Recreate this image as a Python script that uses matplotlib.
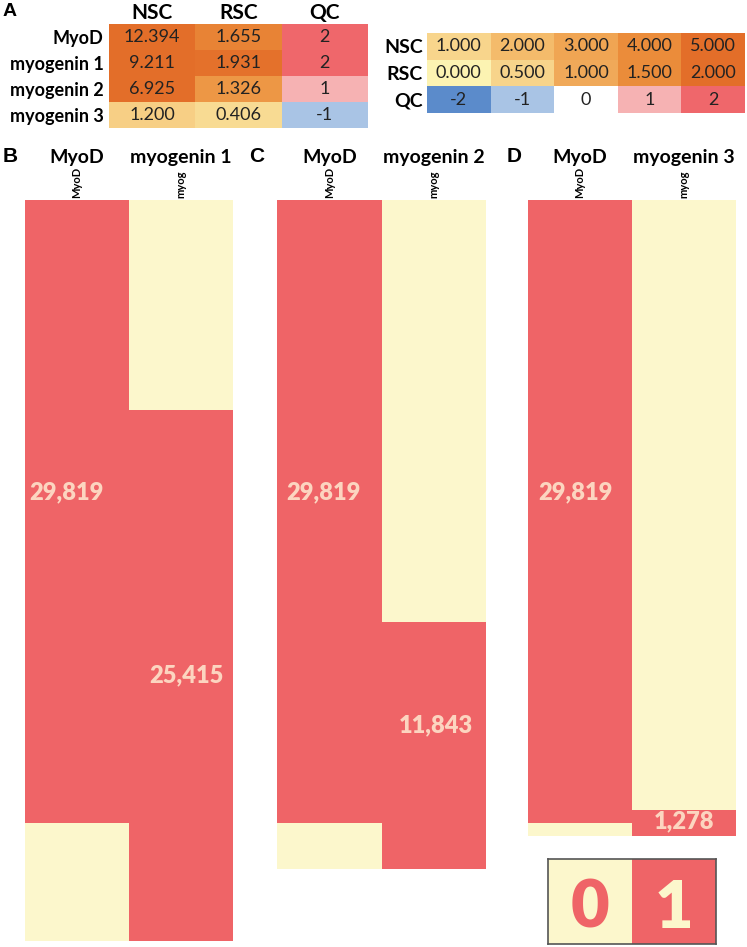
import numpy as np
import matplotlib
matplotlib.use('Agg')
import matplotlib.pyplot as plt
from matplotlib.colors import LinearSegmentedColormap, ListedColormap, Normalize

plt.rcParams['font.family'] = ['Lato', 'DejaVu Sans']

# panel A values
genes = ['MyoD', 'myogenin 1', 'myogenin 2', 'myogenin 3']
nsc = [12.394, 9.211, 6.925, 1.200]
rsc = [1.655, 1.931, 1.326, 0.406]
qc = [2, 2, 1, -1]

# colour key
key_rows = ['NSC', 'RSC', 'QC']
nsc_key = [1.0, 2.0, 3.0, 4.0, 5.0]
rsc_key = [0.0, 0.5, 1.0, 1.5, 2.0]
qc_key = [-2, -1, 0, 1, 2]

# panels B-D: row states (MyoD, myog) and number of rows in each state
states = [[1, 0], [1, 1], [0, 1]]
panel_genes = ['myogenin 1', 'myogenin 2', 'myogenin 3']
counts_B = [10068, 19751, 5664]
counts_C = [20188, 9631, 2212]
counts_D = [29193, 626, 652]

W, H = 747, 947
fig = plt.figure(figsize=(W / 100, H / 100), dpi=100)


def px_axes(x0, y0, x1, y1):
    # place axes using pixel box of the reference
    return fig.add_axes([x0 / W, 1 - y1 / H, (x1 - x0) / W, (y1 - y0) / H])


nsc_cmap = LinearSegmentedColormap.from_list('nsc', [
    (0.0, '#fcf3b2'), (0.2, '#f8d58c'), (0.4, '#f4bb6b'),
    (0.6, '#f0a553'), (0.8, '#eb8c3a'), (1.0, '#e36e29')])
rsc_cmap = LinearSegmentedColormap.from_list('rsc', [
    (0.0, '#fcf3b2'), (0.25, '#f8d58c'), (0.5, '#f1aa5a'),
    (0.75, '#eb8d3b'), (1.0, '#e36e29')])
nsc_norm = Normalize(0, 5, clip=True)
rsc_norm = Normalize(0, 2, clip=True)
qc_colors = {-2: '#5b8bcb', -1: '#a9c4e5', 0: '#ffffff', 1: '#f6b2b3', 2: '#ef676b'}

bin_cmap = ListedColormap(['#fcf7cc', '#ef6467'])
RED = '#ef6467'
LABEL_COL = '#fcd5c0'
ARIAL = ['Liberation Sans', 'DejaVu Sans']


def style_table(ax):
    for s in ax.spines.values():
        s.set_visible(False)
    ax.tick_params(length=0, pad=4)


fig.text(3 / W, 1 - 12 / H, 'A', fontsize=14, fontweight='bold', family=ARIAL, va='center', ha='left')

# ---- A: values table
axA = px_axes(109, 24, 368, 128)
cells = np.array([[nsc_cmap(nsc_norm(a)), rsc_cmap(rsc_norm(b)), matplotlib.colors.to_rgba(qc_colors[c])]
                  for a, b, c in zip(nsc, rsc, qc)])
axA.imshow(cells, aspect='auto')
for i in range(len(genes)):
    axA.text(0, i, f'{nsc[i]:.3f}', ha='center', va='center', fontsize=13, color='#222222')
    axA.text(1, i, f'{rsc[i]:.3f}', ha='center', va='center', fontsize=13, color='#222222')
    axA.text(2, i, f'{qc[i]}', ha='center', va='center', fontsize=13, color='#222222')
axA.xaxis.tick_top()
axA.set_xticks(range(3), ['NSC', 'RSC', 'QC'], fontsize=15, fontweight='bold')
axA.set_yticks(range(len(genes)), genes, fontsize=13, fontweight='bold')
style_table(axA)
axA.tick_params(axis='x', pad=1)

# ---- colour key table
axK = px_axes(427, 33, 745, 113)
key_cells = np.array([[nsc_cmap(nsc_norm(v)) for v in nsc_key],
                      [rsc_cmap(rsc_norm(v)) for v in rsc_key],
                      [matplotlib.colors.to_rgba(qc_colors[v]) for v in qc_key]])
axK.imshow(key_cells, aspect='auto')
for j in range(5):
    axK.text(j, 0, f'{nsc_key[j]:.3f}', ha='center', va='center', fontsize=13, color='#222222')
    axK.text(j, 1, f'{rsc_key[j]:.3f}', ha='center', va='center', fontsize=13, color='#222222')
    axK.text(j, 2, f'{qc_key[j]}', ha='center', va='center', fontsize=13, color='#222222')
axK.set_xticks([])
axK.set_yticks(range(3), key_rows, fontsize=14, fontweight='bold')
style_table(axK)
axK.tick_params(pad=3)

# ---- B-D: binary heatmaps
panels = [('B', 3, (25, 233), counts_B), ('C', 249, (277, 486), counts_C), ('D', 507, (528, 736), counts_D)]
ymax = sum(counts_B)
myog_label_frac = [0.5, 0.42, 0.45]
myog_label_x = [1.55, 1.52, 1.5]
myod_label_x = [0.4, 0.44, 0.46]

for k, (letter, lx, (x0, x1), counts) in enumerate(panels):
    ax = px_axes(x0, 200, x1, 941)
    edges = np.concatenate([[0], np.cumsum(counts)])
    ax.pcolormesh([0, 1, 2], edges, np.array(states), cmap=bin_cmap, vmin=0, vmax=1)
    ax.set_xlim(0, 2)
    ax.set_ylim(ymax, 0)
    ax.axis('off')

    fig.text(lx / W, 1 - 157 / H, letter, fontsize=15, fontweight='bold',
             family=ARIAL, va='center', ha='left')
    for c, name in enumerate(['MyoD', panel_genes[k]]):
        ax.annotate(name, (c + 0.5, 0), xytext=(0, 30.5), textcoords='offset points',
                    ha='center', va='center', fontsize=14, fontweight='bold')
        ax.annotate(['MyoD', 'myog'][c], (c + 0.5, 0), xytext=(0, 1.5), textcoords='offset points',
                    ha='center', va='bottom', rotation=90, fontsize=8, fontweight='bold')

    # count labels inside the red spans
    st = np.array(states)
    for c in range(2):
        on = st[:, c] == 1
        total = int(np.sum(np.array(counts)[on]))
        lo = edges[:-1][on].min()
        hi = edges[1:][on].max()
        frac = 0.47 if c == 0 else myog_label_frac[k]
        xx = myod_label_x[k] if c == 0 else myog_label_x[k]
        ax.text(xx, lo + frac * (hi - lo), f'{total:,}', ha='center', va='center',
                fontsize=17, fontweight='heavy', color=LABEL_COL)

# ---- 0/1 key
axL = px_axes(548, 859, 716, 944)
axL.imshow([[0, 1]], cmap=bin_cmap, vmin=0, vmax=1, aspect='auto')
axL.text(0, 0.08, '0', ha='center', va='center', fontsize=48, fontweight='heavy', color=RED)
axL.text(1, 0.08, '1', ha='center', va='center', fontsize=48, fontweight='heavy', color='#fcf7cc')
axL.set_xticks([])
axL.set_yticks([])
for s in axL.spines.values():
    s.set_color('#555555')
    s.set_linewidth(1.2)

fig.savefig('out.png', dpi=100)
